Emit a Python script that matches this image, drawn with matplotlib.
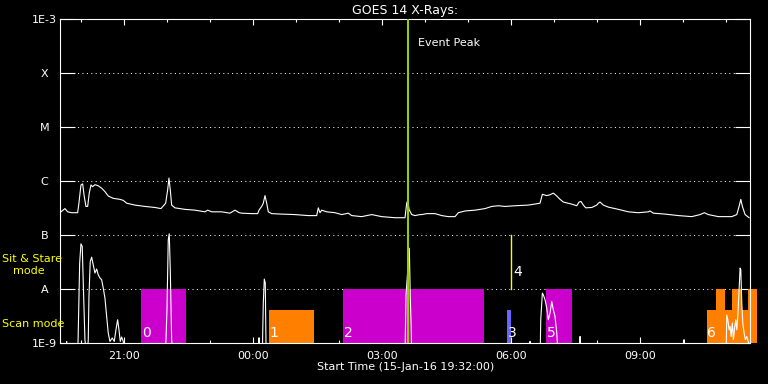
"""GOES 14 X-ray flux plot with scan / sit & stare mode blocks."""

import matplotlib
import matplotlib.pyplot as plt
from matplotlib.ticker import NullLocator

matplotlib.use("Agg")  # Non-interactive backend

# time axis in hours since 00:00 on 15-Jan-16
x_start, x_end = 19.52, 35.57

# long channel flux (1-8 A), W/m^2
long_t = [19.542, 19.635, 19.698, 19.791, 19.930, 19.960, 20.007, 20.047, 20.084, 20.123,
          20.163, 20.200, 20.240, 20.279, 20.333, 20.409, 20.488, 20.565, 20.642, 20.758,
          20.914, 20.991, 21.070, 21.263, 21.495, 21.728, 21.867, 21.977, 22.023, 22.053,
          22.084, 22.116, 22.193, 22.426, 22.658, 22.891, 22.953, 23.047, 23.279, 23.472,
          23.588, 23.688, 23.744, 23.977, 24.116, 24.147, 24.209, 24.247, 24.286, 24.326,
          24.363, 24.442, 24.674, 24.984, 25.293, 25.488, 25.526, 25.565, 25.605, 25.721,
          25.914, 26.070, 26.223, 26.302, 26.535, 26.767, 27.000, 27.309, 27.542, 27.581,
          27.605, 27.635, 27.698, 27.774, 27.891, 27.930, 28.047, 28.240, 28.395, 28.549,
          28.705, 28.781, 28.937, 29.170, 29.402, 29.558, 29.712, 29.867, 30.100, 30.409,
          30.681, 30.735, 30.837, 30.914, 30.991, 31.070, 31.147, 31.223, 31.419, 31.535,
          31.588, 31.635, 31.688, 31.744, 31.884, 32.000, 32.037, 32.077, 32.153, 32.270,
          32.502, 32.735, 32.967, 33.200, 33.240, 33.316, 33.588, 33.898, 34.209, 34.402,
          34.502, 34.595, 34.828, 35.140, 35.256, 35.309, 35.349, 35.386, 35.449, 35.542]
long_flux = [2.7e-7, 3.1e-7, 2.7e-7, 2.6e-7, 2.6e-7, 3.9e-7, 8.5e-7, 8.9e-7, 5.2e-7, 3.4e-7,
             3.4e-7, 6.0e-7, 8.5e-7, 7.9e-7, 8.6e-7, 8.2e-7, 7.4e-7, 6.4e-7, 5.3e-7, 4.8e-7,
             4.6e-7, 4.4e-7, 3.9e-7, 3.6e-7, 3.4e-7, 3.25e-7, 3.1e-7, 3.9e-7, 6.9e-7, 1.14e-6,
             6.9e-7, 3.6e-7, 3.2e-7, 3.0e-7, 2.9e-7, 2.7e-7, 2.9e-7, 2.7e-7, 2.7e-7, 2.55e-7,
             2.9e-7, 2.6e-7, 2.55e-7, 2.5e-7, 2.5e-7, 2.9e-7, 3.4e-7, 3.9e-7, 5.4e-7, 3.9e-7,
             2.7e-7, 2.5e-7, 2.45e-7, 2.4e-7, 2.3e-7, 2.3e-7, 3.2e-7, 2.6e-7, 2.9e-7, 2.7e-7,
             2.6e-7, 2.4e-7, 2.55e-7, 2.3e-7, 2.2e-7, 2.4e-7, 2.2e-7, 2.1e-7, 2.1e-7, 3.9e-7,
             4.4e-7, 3.0e-7, 2.4e-7, 2.3e-7, 2.4e-7, 2.4e-7, 2.5e-7, 2.5e-7, 2.3e-7, 2.2e-7,
             2.2e-7, 2.6e-7, 2.8e-7, 2.9e-7, 3.1e-7, 3.4e-7, 3.5e-7, 3.4e-7, 3.5e-7, 3.6e-7,
             3.9e-7, 5.7e-7, 5.4e-7, 5.6e-7, 6.0e-7, 5.3e-7, 4.6e-7, 4.1e-7, 3.75e-7, 3.5e-7,
             4.1e-7, 4.2e-7, 3.6e-7, 3.2e-7, 3.25e-7, 3.6e-7, 3.9e-7, 4.1e-7, 3.6e-7, 3.3e-7,
             3.0e-7, 2.7e-7, 2.6e-7, 2.7e-7, 2.8e-7, 2.55e-7, 2.45e-7, 2.3e-7, 2.2e-7, 2.4e-7,
             2.6e-7, 2.4e-7, 2.2e-7, 2.2e-7, 2.4e-7, 3.4e-7, 4.6e-7, 3.4e-7, 2.4e-7, 2.1e-7]

# short channel flux (0.5-4 A); 5e-10 means below the plotted range
short_t = [19.665, 19.674, 19.683, 19.930, 19.944, 19.977, 20.007, 20.037, 20.070, 20.100,
           20.147, 20.177, 20.193, 20.223, 20.256, 20.293, 20.333, 20.372, 20.409, 20.449,
           20.488, 20.526, 20.565, 20.605, 20.642, 20.681, 20.735, 20.781, 20.821, 20.860,
           20.891, 20.921, 20.953, 20.991, 21.030, 21.960, 21.984, 22.007, 22.037, 22.060,
           22.084, 22.116, 22.153, 24.140, 24.147, 24.155, 24.225, 24.233, 24.247, 24.270,
           24.293, 24.309, 24.320, 27.540, 27.565, 27.642, 27.665, 27.688, 27.700, 30.440,
           30.449, 30.458, 30.681, 30.698, 30.735, 30.758, 30.798, 30.837, 30.874, 30.914,
           30.953, 30.991, 31.030, 31.070, 31.107, 31.600, 31.612, 31.625, 34.020, 34.030,
           34.040, 35.007, 35.023, 35.047, 35.077, 35.100, 35.123, 35.153, 35.177, 35.200,
           35.233, 35.256, 35.279, 35.302, 35.333, 35.349, 35.372, 35.395, 35.426, 35.456,
           35.488, 35.526, 35.542]
short_flux = [5e-10, 1.07e-9, 5e-10, 5e-10, 1.55e-9, 3.0e-8, 6.9e-8, 6.15e-8, 7.3e-9, 1.15e-9,
              5e-10, 1.15e-9, 7.3e-9, 3.24e-8, 3.9e-8, 2.8e-8, 1.98e-8, 2.35e-8, 1.84e-8, 1.6e-8,
              1.49e-8, 1.04e-8, 6.8e-9, 3.1e-9, 1.53e-9, 1.07e-9, 1.24e-9, 1.07e-9, 1.76e-9, 2.7e-9,
              1.76e-9, 1.07e-9, 1.29e-9, 1.07e-9, 5e-10, 5e-10, 1.15e-9, 4.1e-9, 8.2e-8, 1.06e-7,
              2.28e-8, 1.15e-9, 5e-10, 5e-10, 1.25e-9, 5e-10, 5e-10, 1.55e-9, 5.5e-9, 1.53e-8,
              1.29e-8, 1.03e-9, 5e-10, 5e-10, 7.8e-9, 5.7e-8, 6.8e-9, 1.64e-9, 5e-10, 5e-10,
              1.07e-9, 5e-10, 5e-10, 2.7e-9, 8.4e-9, 7.8e-9, 6.3e-9, 4.45e-9, 2.7e-9, 3.6e-9,
              5.9e-9, 4.1e-9, 3.1e-9, 1.53e-9, 5e-10, 5e-10, 1.32e-9, 5e-10, 5e-10, 1.15e-9,
              5e-10, 5e-10, 3.3e-9, 2.7e-9, 1.76e-9, 2.03e-9, 1.32e-9, 2.34e-9, 1.15e-9, 1.76e-9,
              2.7e-9, 1.76e-9, 3.1e-9, 7.3e-9, 2.45e-8, 2.28e-8, 5.5e-9, 2.34e-9, 1.53e-9, 1.15e-9,
              1.32e-9, 1.03e-9, 5e-10]

# observing mode blocks (scan mode = low, sit & stare = A level)
block_start = [21.402, 24.379, 26.100, 29.914, 30.821, 34.558, 34.774, 34.984, 35.153, 35.372, 35.526]
block_end = [22.442, 25.419, 29.372, 30.007, 31.419, 34.774, 34.984, 35.153, 35.372, 35.526, 35.721]
block_top = [1e-8, 4.1e-9, 1e-8, 4.1e-9, 1e-8, 4.1e-9, 1e-8, 4.1e-9, 1e-8, 4.1e-9, 1e-8]
block_color = ["#cc00cc", "#ff8000", "#cc00cc", "#6666ff", "#cc00cc",
               "#ff8000", "#ff8000", "#ff8000", "#ff8000", "#ff8000", "#ff8000"]
block_label = ["0", "1", "2", "3", "5", "6"]
block_label_t = [21.402, 24.379, 26.100, 29.914, 30.821, 34.558]

stare_t = 30.0
event_peak_t = 27.612

flux_levels = [1e-9, 1e-8, 1e-7, 1e-6, 1e-5, 1e-4, 1e-3]
flux_names = ["1E-9", "A", "B", "C", "M", "X", "1E-3"]
hour_ticks = [21, 24, 27, 30, 33]
hour_names = ["21:00", "00:00", "03:00", "06:00", "09:00"]
hour_minor = [20, 22, 23, 25, 26, 28, 29, 31, 32, 34, 35]

W, H = 768, 384
fig = plt.figure(figsize=(W / 100, H / 100), dpi=100, facecolor="black")
ax = fig.add_axes([60 / W, 1 - 343 / H, 690.3 / W, 323.7 / H])
ax.set_facecolor("black")
for sp in ax.spines.values():
    sp.set_color("white")
    sp.set_linewidth(0.8)

ax.set_yscale("log")
ax.set_xlim(x_start, x_end)
ax.set_ylim(1e-9, 1e-3)

ax.set_yticks(flux_levels, flux_names)
ax.yaxis.set_minor_locator(NullLocator())
ax.tick_params(axis="y", which="major", direction="in", length=10.8, width=0.8,
               left=True, right=True, color="white", labelcolor="white",
               labelsize=8, pad=11.2)
for lab in ax.get_yticklabels():
    lab.set_horizontalalignment("center")

ax.set_xticks(hour_ticks, hour_names)
ax.set_xticks(hour_minor, minor=True)
ax.tick_params(axis="x", which="major", direction="in", length=4.3, width=0.8,
               top=True, bottom=True, color="white", labelcolor="white",
               labelsize=8, pad=5.8)
ax.tick_params(axis="x", which="minor", direction="in", length=2.2, width=0.8,
               top=True, bottom=True, color="white")

ax.grid(True, axis="y", which="major", color="white", linewidth=0.72,
        linestyle=(0, (1, 3.4)))
ax.set_axisbelow(True)

# mode blocks
for s, e, top, c in zip(block_start, block_end, block_top, block_color):
    ax.bar(s, top - 1e-9, width=e - s, bottom=1e-9, align="edge", color=c,
           linewidth=0, zorder=1, clip_on=e <= x_end)
for t, lab in zip(block_label_t, block_label):
    ax.annotate(lab, xy=(t, 1.55e-9), xytext=(0.5, 0), textcoords="offset points",
                color="white", fontsize=10, ha="left", va="center", zorder=4)

ax.plot([stare_t, stare_t], [1e-8, 1e-7], color="#ffff00", linewidth=1, zorder=2)
ax.annotate("4", xy=(stare_t, 2.1e-8), xytext=(1.5, 0), textcoords="offset points",
            color="white", fontsize=10, ha="left", va="center")

ax.plot(short_t, short_flux, color="white", linewidth=0.8, zorder=3)
ax.plot(long_t, long_flux, color="white", linewidth=0.8, zorder=3)

ax.axvline(event_peak_t, color="#99cc00", linewidth=1.5, zorder=3)
ax.annotate("Event Peak", xy=(event_peak_t, 3.6e-4), xytext=(7, 0),
            textcoords="offset points", color="white", fontsize=8, va="center")

ax.set_title("GOES 14 X-Rays:", color="white", fontsize=9, pad=4)
ax.set_xlabel("Start Time (15-Jan-16 19:32:00)", color="white", fontsize=8, labelpad=1)

fig.text(1.7 / W, 1 - 259 / H, "Sit & Stare", color="#ffff00", fontsize=8, va="center")
fig.text(12.7 / W, 1 - 271 / H, "mode", color="#ffff00", fontsize=8, va="center")
fig.text(1.7 / W, 1 - 324 / H, "Scan mode", color="#ffff00", fontsize=8, va="center")

fig.savefig("out.png", dpi=100, facecolor="black")
